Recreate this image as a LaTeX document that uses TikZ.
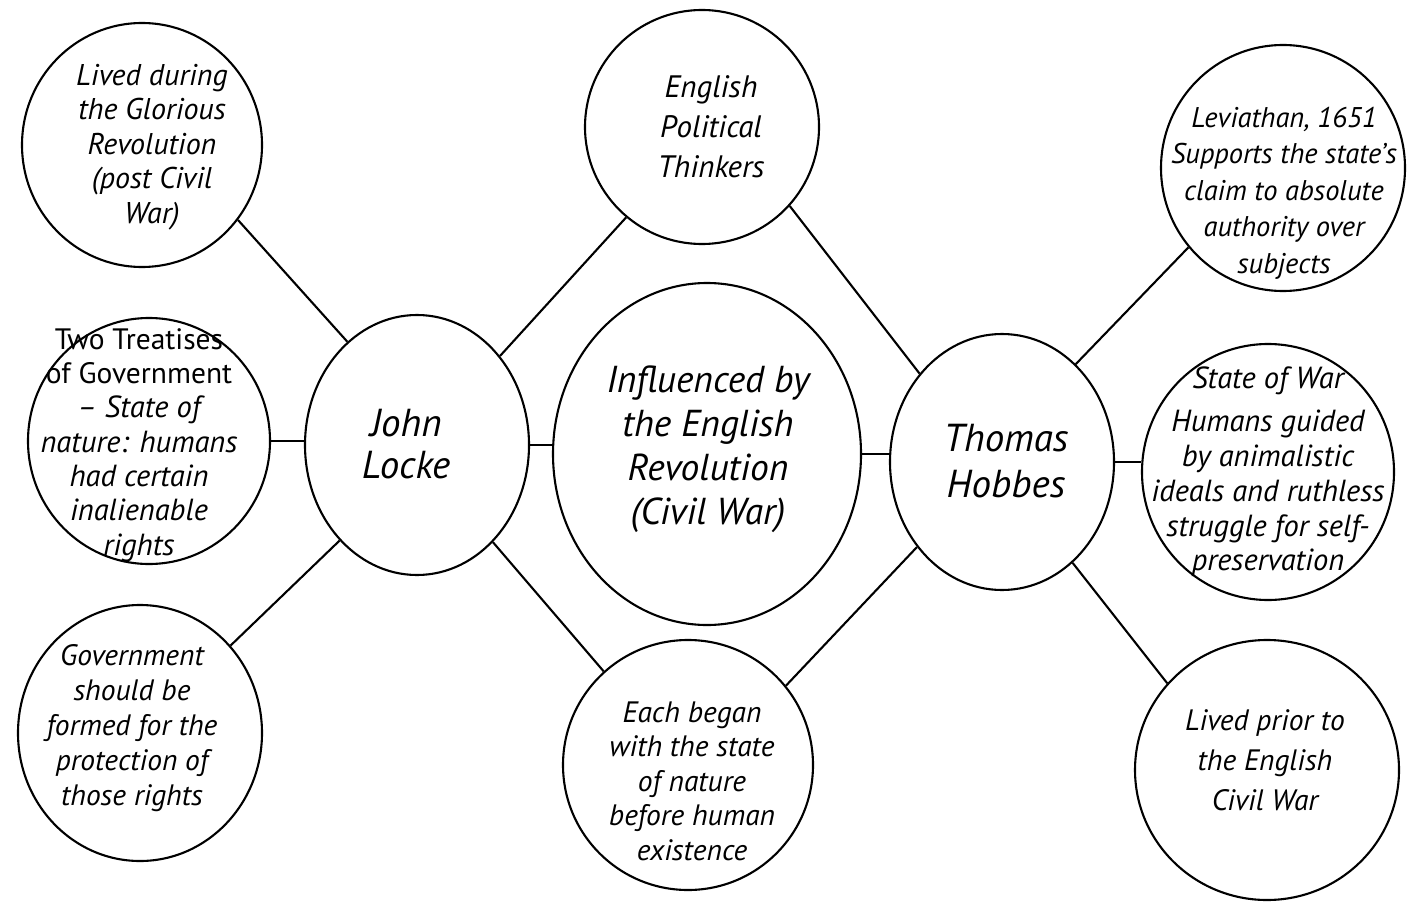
\documentclass[tikz,border=0pt]{standalone}
\usepackage{fontspec}
\setmainfont{PT Sans}
\usetikzlibrary{shapes.geometric}
\newcommand\bubblefont[2]{\fontsize{#1}{#2}\selectfont\itshape}
\begin{document}
\begin{tikzpicture}[x=1pt,y=-1pt,
  bubble/.style={draw=black, line width=2.1pt, ellipse, inner sep=0pt},
  txt/.style={align=center, inner sep=0pt, font=\bubblefont{30}{34.5}},
  big/.style={align=center, inner sep=0pt, font=\bubblefont{39}{44}},
  link/.style={draw=black, line width=2.1pt}]
\path[use as bounding box] (0,0) rectangle (1420,904);

% central topic and the two thinkers
\node[bubble, minimum width=308pt, minimum height=342pt] (ctr) at (707,454) {};
\node[big, font=\bubblefont{37.5}{44}] (ctrt) at (708,449) {Influenced by\\the English\\Revolution\\(Civil War)};

\node[bubble, minimum width=224pt, minimum height=260pt] (locke) at (417,445) {};
\node[big, font=\bubblefont{39}{42}] (locket) at (406,444) {John\\Locke};

\node[bubble, minimum width=224pt, minimum height=256pt] (hob) at (1002,462) {};
\node[big, font=\bubblefont{39}{46}] (hobt) at (1006,461) {Thomas\\Hobbes};

% shared ideas
\node[bubble, minimum width=234pt, minimum height=234pt] (ept) at (702,127) {};
\node[txt, font=\bubblefont{31}{40}] (eptt) at (711,127) {English\\Political\\Thinkers};

\node[bubble, minimum width=250pt, minimum height=250pt] (each) at (688,765) {};
\node[txt, font=\bubblefont{29.5}{34.5}] (eacht) at (692,781) {Each began\\with the state\\of nature\\before human\\existence};

% Locke's side
\node[bubble, minimum width=240pt, minimum height=244pt] (tl) at (142,145) {};
\node[txt] (tlt) at (152,147) {Lived during\\the Glorious\\Revolution\\(post Civil\\War)};

\node[bubble, minimum width=242pt, minimum height=246pt] (ml) at (149,441) {};
\node[txt, font=\bubblefont{30.5}{34.3}] (mlt) at (139,445) {{\upshape\fontsize{29.5}{34.3}\selectfont Two Treatises}\\{\upshape\fontsize{29.5}{34.3}\selectfont of Government}\\– State of\\nature: humans\\had certain\\inalienable\\rights};

\node[bubble, minimum width=244pt, minimum height=256pt] (bl) at (140,733) {};
\node[txt, font=\bubblefont{29.5}{35}] (blt) at (132,728) {Government\\should be\\formed for the\\protection of\\those rights};

% Hobbes's side
\node[bubble, minimum width=244pt, minimum height=246pt] (lev) at (1283,168) {};
\node[txt, font=\bubblefont{28.5}{36.5}] (levt) at (1284,193) {Leviathan, 1651\\Supports the state’s\\claim to absolute\\authority over\\subjects};

\node[bubble, minimum width=252pt, minimum height=256pt] (war) at (1268,472) {};
\node[txt, font=\bubblefont{30.5}{34.8}] (wart) at (1268,472) {State of War\\[8pt]Humans guided\\by animalistic\\ideals and ruthless\\struggle for self-\\preservation};

\node[bubble, minimum width=264pt, minimum height=260pt] (lp) at (1267,770) {};
\node[txt, font=\bubblefont{29.5}{40}] (lpt) at (1265,760) {Lived prior to\\the English\\Civil War};

% connectors
\draw[link] (tl.-38) -- (locke.124);
\draw[link] (ml.east) -- (ml.east -| locke.west);
\draw[link] (bl.44) -- (locke.231);
\draw[link] (locke.47) -- (ept.-130);
\draw[link] (locke.east) -- (locke.east -| ctr.west);
\draw[link] (locke.-52) -- (each.132);
\draw[link] (ept.-42) -- (hob.133);
\draw[link] (ctr.east) -- (ctr.east -| hob.west);
\draw[link] (each.39) -- (hob.225);
\draw[link] (hob.53) -- (lev.220);
\draw[link] (hob.east) -- (hob.east -| war.west);
\draw[link] (hob.-55) -- (lp.139);
\end{tikzpicture}
\end{document}
